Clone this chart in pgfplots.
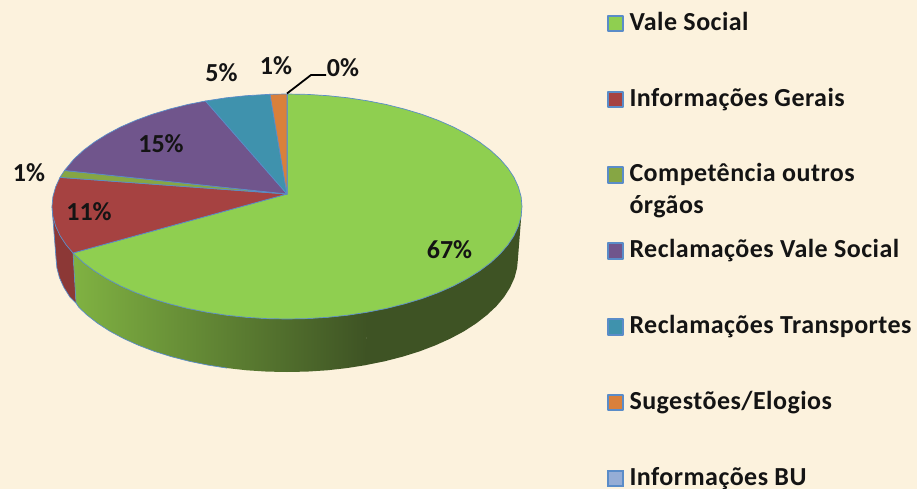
\documentclass[border=0pt]{standalone}
\usepackage{pgfplots}
\pgfplotsset{compat=1.18}
\usepackage{fontspec}
\setmainfont{Carlito}
\definecolor{bg}{HTML}{FCF2DD}
\definecolor{edge}{HTML}{5A8CC8}
\definecolor{cgreen}{HTML}{8FCF50}
\definecolor{cred}{HTML}{A64241}
\definecolor{colive}{HTML}{86A644}
\definecolor{cpurple}{HTML}{70558C}
\definecolor{cblue}{HTML}{3F92AD}
\definecolor{corange}{HTML}{D9803B}
\definecolor{clight}{HTML}{95ADD6}
\definecolor{sideA}{HTML}{80B242}
\definecolor{sideB}{HTML}{3E5324}
\definecolor{sideR}{HTML}{8C3836}
\newcommand{\lab}{\bfseries\fontsize{26}{32}\selectfont}
\newcommand{\legf}{\bfseries\fontsize{26}{32}\selectfont\addfontfeature{LetterSpace=1.8}}
\begin{document}
\begin{tikzpicture}
\begin{axis}[
  hide axis, scale only axis, width=917pt, height=489pt,
  xmin=0, xmax=917, ymin=0, ymax=489, y dir=reverse,
  legend image code/.code={\draw[#1,draw=edge,line width=2pt] (1pt,-1pt) rectangle (16pt,14.5pt);},
  legend style={at={(axis cs:606.5,12)}, anchor=north west, draw=none, fill=none,
    inner sep=0pt, outer sep=0pt, row sep=55.6pt,
    nodes={inner sep=0pt, outer sep=0pt, anchor=base west, text=black!92, font=\legf},
    /tikz/column 1/.style={column sep=6pt}},
  legend cell align=left,
]
% background
\addplot[fill=bg, draw=none, forget plot] coordinates {(0,0)(917,0)(917,489)(0,489)} --cycle;
% side walls
\addplot[fill=sideR, draw=none, forget plot] coordinates {
 (52,206.5)(52.9,216.3)(55.6,226)(60,235.6)(66.2,245)(73,253)
 (76,303)(69.9,297)(63.9,287.5)(59.5,277.8)(56.9,267.9)(56,258)} --cycle;
\addplot[left color=sideA, right color=sideB, draw=none, forget plot] coordinates {
 (73,253)(83.5,262.8)(94.5,271)(107,278.8)(120.8,286.1)(135.9,292.7)(152.2,298.7)(169.5,303.9)
 (187.7,308.5)(206.6,312.2)(226.2,315.2)(246.2,317.3)(266.5,318.6)(287,319)(307.5,318.6)(327.8,317.3)(347.8,315.2)(367.4,312.2)
 (366,365.1)(346.8,368.1)(327.1,370.3)(307.1,371.6)(287,372)(266.9,371.6)(246.9,370.3)(227.2,368.1)(208,365.1)(189.4,361.3)
 (171.5,356.7)(154.5,351.4)(138.5,345.3)(123.7,338.6)(110,331.3)(97.8,323.4)(87,315)(79,307.5)(76,303)} --cycle;
\addplot[fill=sideB, draw=none, forget plot] coordinates {
 (367,312.2)(386.3,308.5)(404.5,303.9)(421.8,298.7)(438.1,292.7)(453.2,286.1)(467,278.8)(479.5,271)(490.5,262.8)(500,254)
 (507.8,245)(514,235.6)(518.4,226)(521.1,216.3)(522,206.5)
 (518,258)(517.1,267.9)(514.5,277.8)(510.1,287.5)(504.1,297)(496.4,306.2)(487,315)(476.2,323.4)(464,331.3)(450.3,338.6)
 (435.5,345.3)(419.5,351.4)(402.5,356.7)(384.6,361.3)(365.5,365.1)} --cycle;
% wall outlines
\addplot[draw=edge, line width=0.7pt, forget plot] coordinates {(52,206.5)(56,258)(56.9,267.9)(59.5,277.8)(63.9,287.5)(69.9,297)(76,303)(79,307.5)(87,315)(97.8,323.4)(110,331.3)(123.7,338.6)(138.5,345.3)(154.5,351.4)(171.5,356.7)(189.4,361.3)(208,365.1)(227.2,368.1)};
\addplot[draw=edge, line width=0.6pt, forget plot] coordinates {(73,253)(76,303)};
% top slices
\addplot[fill=cgreen, draw=edge, line width=0.7pt, line join=round] coordinates {
 (287,194)(287,94)(307.5,94.4)(327.8,95.7)(347.8,97.8)(367.4,100.8)(386.3,104.5)(404.5,109.1)(421.8,114.3)(438.1,120.3)(453.2,126.9)
 (467,134.2)(479.5,142)(490.5,150.3)(500,159)(507.8,168)(514,177.4)(518.4,187)(521.1,196.7)(522,206.5)(521.1,216.3)(518.4,226)
 (514,235.6)(507.8,245)(500,254)(490.5,262.8)(479.5,271)(467,278.8)(453.2,286.1)(438.1,292.7)(421.8,298.7)(404.5,303.9)(386.3,308.5)
 (367.4,312.2)(347.8,315.2)(327.8,317.3)(307.5,318.6)(287,319)(266.5,318.6)(246.2,317.3)(226.2,315.2)(206.6,312.2)(187.7,308.5)
 (169.5,303.9)(152.2,298.7)(135.9,292.7)(120.8,286.1)(107,278.8)(94.5,271)(83.5,262.8)(73,253)} --cycle;
\addlegendentry{Vale Social}
\addplot[fill=cred, draw=edge, line width=0.7pt, line join=round] coordinates {
 (287,194)(73,253)(66.2,245)(60,235.6)(55.6,226)(52.9,216.3)(52,206.5)(52.9,196.7)(55.6,187)(60,177.4)} --cycle;
\addlegendentry{Informações Gerais}
\addplot[fill=colive, draw=edge, line width=0.7pt, line join=round] coordinates {
 (287,194)(60,177.4)(64.5,170.5)} --cycle;
\addlegendentry{\parbox[t]{280pt}{Competência outros\\órgãos}}
\addplot[fill=cpurple, draw=edge, line width=0.7pt, line join=round] coordinates {
 (287,194)(64.5,170.5)(74,159)(83.5,150.3)(94.5,142)(107,134.2)(120.8,126.9)(135.9,120.3)(152.2,114.3)(169.5,109.1)(187.7,104.5)(205.5,101)} --cycle;
\addlegendentry{Reclamações Vale Social}
\addplot[fill=cblue, draw=edge, line width=0.7pt, line join=round] coordinates {
 (287,194)(205.5,101)(226.2,97.8)(246.2,95.7)(270,94.3)} --cycle;
\addlegendentry{Reclamações Transportes}
\addplot[fill=corange, draw=edge, line width=0.7pt, line join=round] coordinates {
 (287,194)(270,94.3)(287,94)} --cycle;
\addlegendentry{Sugestões/Elogios}
\addplot[fill=clight, draw=edge, line width=0.7pt] coordinates {(287,194)(287,94)} --cycle;
\addlegendentry{Informações BU}
% leader line
\addplot[black, line width=1.8pt, forget plot] coordinates {(287,93.5)(311,75)(326,75)};
% data labels
\node[font=\lab, text=black!92] at (axis cs:449.5,250) {67\%};
\node[font=\lab, text=black!92] at (axis cs:89,212) {11\%};
\node[font=\lab, text=black!92] at (axis cs:161,144) {15\%};
\node[font=\lab, text=black!92] at (axis cs:29,172.5) {1\%};
\node[font=\lab, text=black!92] at (axis cs:221.5,73) {5\%};
\node[font=\lab, text=black!92] at (axis cs:276,66) {1\%};
\node[font=\lab, text=black!92] at (axis cs:343,68) {0\%};
\end{axis}
\end{tikzpicture}
\end{document}
